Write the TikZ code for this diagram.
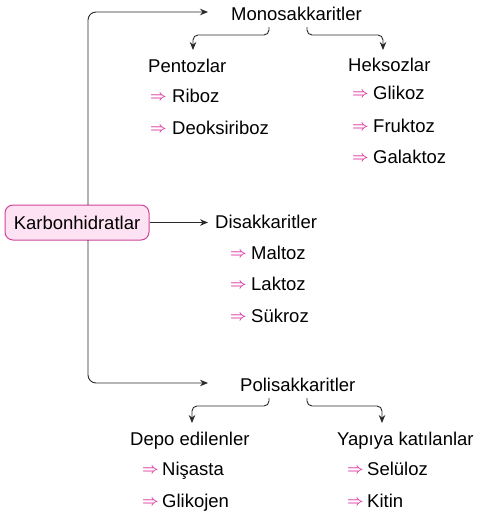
\documentclass[tikz,border=0pt]{standalone}
\usepackage{fontspec}
\setmainfont{Liberation Sans}
\usetikzlibrary{arrows.meta}
\definecolor{ln}{HTML}{2A2A2A}
\definecolor{mag}{HTML}{DC3AA4}
\definecolor{boxfill}{HTML}{FCE2F2}
\definecolor{boxdraw}{HTML}{D2449A}
\tikzset{
  lbl/.style={anchor=base west,inner sep=0pt,font=\fontsize{18.5}{20}\selectfont,text=black},
  itm/.style={anchor=base west,inner sep=0pt,font=\fontsize{18.5}{20}\selectfont,text=black},
  dbl/.style={anchor=base west,inner sep=0pt,yshift=1.5pt,font=\fontsize{15.5}{18}\selectfont,text=mag},
  arr/.style={draw=ln,line width=0.9pt,-{Stealth[length=8pt,width=6.5pt]},rounded corners=8pt},
  kbox/.style={draw=boxdraw,fill=boxfill,line width=1pt,rounded corners=8pt,minimum width=144pt,minimum height=35pt,inner sep=0pt,font=\fontsize{18.5}{20}\selectfont}
}
\newcommand{\dar}{{\boldmath$\Rightarrow$}}
\begin{document}
\begin{tikzpicture}[x=1pt,y=-1pt]
\useasboundingbox (0,0) rectangle (482,517);
\node[kbox] (kb) at (77,222.5) {Karbonhidratlar};
% main headings
\node[lbl] (mono) at (231,20) {Monosakkaritler};
\node[lbl] (di) at (215,228) {Disakkaritler};
\node[lbl] (poli) at (240,391) {Polisakkaritler};
% mono sub
\node[lbl] (pent) at (148,72) {Pentozlar};
\node[lbl] (heks) at (348,71) {Heksozlar};
\node[dbl] (a1) at (150,102) {\dar};
\node[itm] (riboz) at (172,102) {Riboz};
\node[dbl] (a2) at (150,134) {\dar};
\node[itm] (deoks) at (172,134) {Deoksiriboz};
\node[dbl] (a3) at (352,99) {\dar};
\node[itm] (glk) at (373,99) {Glikoz};
\node[dbl] (a4) at (352,132) {\dar};
\node[itm] (fru) at (373,132) {Fruktoz};
\node[dbl] (a5) at (352,163) {\dar};
\node[itm] (gal) at (373,163) {Galaktoz};
% di sub
\node[dbl] (a6) at (230,259) {\dar};
\node[itm] (mal) at (251,259) {Maltoz};
\node[dbl] (a7) at (230,290) {\dar};
\node[itm] (lak) at (251,290) {Laktoz};
\node[dbl] (a8) at (230,322) {\dar};
\node[itm] (suk) at (251,322) {Sükroz};
% poli sub
\node[lbl] (depo) at (130,445) {Depo edilenler};
\node[lbl] (yapi) at (337,445) {Yapıya katılanlar};
\node[dbl] (a9) at (142,475) {\dar};
\node[itm] (nis) at (162,475) {Nişasta};
\node[dbl] (a10) at (142,507) {\dar};
\node[itm] (glj) at (162,507) {Glikojen};
\node[dbl] (a11) at (347,475) {\dar};
\node[itm] (sel) at (367,475) {Selüloz};
\node[dbl] (a12) at (347,507) {\dar};
\node[itm] (kit) at (367,507) {Kitin};
% coordinates
\coordinate (kbt) at (88,205);
\coordinate (kbb) at (88,240);
\coordinate (monoIn) at (208,12);
\coordinate (poliIn) at (208,383);
\coordinate (diIn) at (208,222.5);
\coordinate (m1) at (269,27);
\coordinate (m2) at (307,27);
\coordinate (m1e) at (193,50);
\coordinate (m2e) at (383,50);
\coordinate (p1) at (269,398);
\coordinate (p2) at (307,398);
\coordinate (p1e) at (192,423);
\coordinate (p2e) at (382,423);
% connectors
\draw[arr] (kbt) |- (monoIn);
\draw[arr] (kbb) |- (poliIn);
\draw[arr] (kb.east) -- (diIn);
\draw[arr,rounded corners=5pt] (m1) -- (269,35) -| (m1e);
\draw[arr,rounded corners=5pt] (m2) -- (307,35) -| (m2e);
\draw[arr,rounded corners=5pt] (p1) -- (269,406) -| (p1e);
\draw[arr,rounded corners=5pt] (p2) -- (307,406) -| (p2e);
\end{tikzpicture}
\end{document}
